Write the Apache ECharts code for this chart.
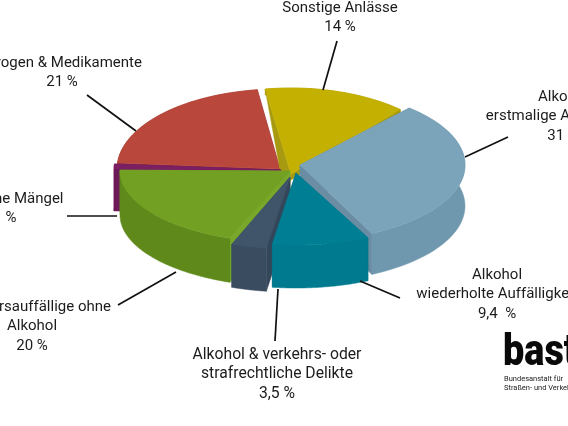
<!DOCTYPE html>
<html><head><meta charset="utf-8">
<style>html,body{margin:0;padding:0;background:#fff;overflow:hidden}#c{width:568px;height:426px}</style>
<script src="https://cdn.jsdelivr.net/npm/echarts@6/dist/echarts.min.js"></script>
</head><body><div id="c"></div>
<script>
const categories = ['Sonstige Anlässe','Alkohol erstmalige Auffälligkeit','Alkohol wiederholte Auffälligkeit','Alkohol & verkehrs- oder strafrechtliche Delikte','Verkehrsauffällige ohne Alkohol','Körperliche Mängel','Drogen & Medikamente'];
const shares = [14, 31, 9.4, 3.5, 20, 1, 21];
const shareLabels = ['14 %','31 %','9,4  %','3,5 %','20 %','1 %','21 %'];

// drawing style per slice
const topColors  = ['#c4b000','#7ba4ba','#007f94','#40556a','#72a022','#7b1f62','#b9473b'];
const wallColors = ['#a69600','#6f97ad','#007a8e','#3a4c60','#5f8a1b','#6e1a58','#a03c30'];
const cutColors  = ['#a89a10','#6a8da3','#006e80','#34465a','#78a82a','#6e1a58','#8f2f3a'];
const centers = [[291,174],[300,165],[296,173],[290,177],[290,171],[281,170],[280,169]];
const radiiX  = [165,165,165,165,170,167,163];
const radiiY  = [86,76,72,72,72,80,80];
const depths  = [6,41,43,43,44,42,4];
const paintRank = [1,2,6,5,4,3,0];
const startAngle = -10;
// perspective correction of each slice edge, in degrees
const edgeShift = [1,1,2,2.2,2,0,0,2];

const pt = (i, deg, dy) => {
  const a = deg * Math.PI / 180, c = centers[i];
  return [c[0] + radiiX[i] * Math.sin(a), c[1] - radiiY[i] * Math.cos(a) + (dy || 0)];
};

function renderSlice(params, api) {
  const i = params.dataIndex, total = shares.reduce((s, v) => s + v, 0);
  const before = shares.slice(0, i).reduce((s, v) => s + v, 0);
  const a0 = startAngle + before / total * 360 + edgeShift[i];
  const a1 = startAngle + (before + api.value(0)) / total * 360 + edgeShift[i + 1];
  const c = centers[i], depth = depths[i];
  const arc = [];
  for (let k = 0; k <= 48; k++) arc.push(a0 + (a1 - a0) * k / 48);
  const z = paintRank[i] * 10;
  const poly = (points, fill, dz) => ({
    type: 'polygon', z2: z + dz, shape: { points },
    style: { fill, stroke: fill, lineWidth: 0.5 }
  });
  const top = [c].concat(arc.map(d => pt(i, d)));
  const outer = arc.map(d => pt(i, d)).concat(arc.slice().reverse().map(d => pt(i, d, depth)));
  const cut = d => [c, pt(i, d), pt(i, d, depth), [c[0], c[1] + depth]];
  const first = i === 0 ? [c, pt(i, a0), [c[0] - 11, c[1] - 4], [c[0] - 1, c[1] + 8]] : cut(a0);
  return { type: 'group', children: [
    poly(first, cutColors[i], 0),
    poly(cut(a1), cutColors[i], 1),
    poly(outer, wallColors[i], 2),
    poly(top, topColors[i], 3)
  ]};
}

const font = 'Roboto, sans-serif';
const textBlock = (cx, y, lines, size) => lines.map((t, n) => ({
  type: 'text', z: 10, x: cx, y: y + n * 19.5,
  style: { text: t, fill: '#1c1c1c', font: (size || 15) + 'px ' + font, textAlign: 'center', textVerticalAlign: 'middle' }
}));
const leader = (x1, y1, x2, y2) => ({
  type: 'line', z: 9, shape: { x1, y1, x2, y2 }, style: { stroke: '#111', lineWidth: 1.7 }
});

const graphics = [
  ...textBlock(340, 8, [categories[0], shareLabels[0]]),
  ...textBlock(563, 97, ['Alkohol', 'erstmalige Auffälligkeit', shareLabels[1]]),
  ...textBlock(497, 275, ['Alkohol', 'wiederholte Auffälligkeit', shareLabels[2]]),
  ...textBlock(277, 355, ['Alkohol & verkehrs- oder', 'strafrechtliche Delikte', shareLabels[3]], 15.7),
  ...textBlock(32, 307, ['Verkehrsauffällige ohne', 'Alkohol', shareLabels[4]]),
  ...textBlock(-1, 199, [categories[5]]),
  ...textBlock(5, 218.5, [shareLabels[5]]),
  ...textBlock(64, 63, [categories[6]]),
  ...textBlock(62, 82.5, [shareLabels[6]]),
  leader(337, 41, 323, 90),
  leader(508, 137, 465, 157),
  leader(400, 298, 360, 281),
  leader(275, 341, 278, 289),
  leader(118, 305, 176, 272),
  leader(67, 216, 117, 216),
  leader(87, 95, 136, 131),
  { type: 'text', z: 10, x: 503, y: 354, scaleX: 0.86, style: { text: 'bast', fill: '#0a0a0a', font: '900 44px ' + font, textAlign: 'left', textVerticalAlign: 'middle' } },
  { type: 'text', z: 10, x: 504, y: 379, style: { text: 'Bundesanstalt für', fill: '#222', font: '7.5px ' + font, textAlign: 'left', textVerticalAlign: 'middle' } },
  { type: 'text', z: 10, x: 504, y: 388, style: { text: 'Straßen- und Verkehrswesen', fill: '#222', font: '7.5px ' + font, textAlign: 'left', textVerticalAlign: 'middle' } }
];

const chart = echarts.init(document.getElementById('c'));
chart.setOption({
  animation: false,
  backgroundColor: '#fff',
  series: [{
    type: 'custom', coordinateSystem: 'none', silent: true,
    renderItem: renderSlice,
    data: shares.map((v, i) => ({ name: categories[i], value: [v] }))
  }],
  graphic: graphics
});
</script></body></html>
